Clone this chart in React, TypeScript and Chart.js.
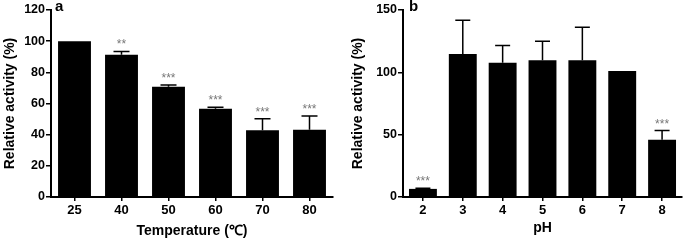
import React, { useEffect, useRef } from "react";
import { Chart, registerables } from "chart.js";
Chart.register(...registerables);

const FONT = '"Liberation Sans", Arial, Helvetica, sans-serif';

// Panel a: temperature
const tempCategories = ["25", "40", "50", "60", "70", "80"];
const tempActivity = [100, 91.3, 70.8, 56.6, 42.8, 43.2];
const tempError = [0, 2.1, 1.1, 1.0, 7.4, 8.7];
const tempSig = ["", "**", "***", "***", "***", "***"];
const tempYMax = 120;
const tempYStep = 20;

// Panel b: pH
const phCategories = ["2", "3", "4", "5", "6", "7", "8"];
const phActivity = [6.5, 114.8, 107.6, 109.7, 109.7, 101, 45.9];
const phError = [0.5, 27, 14, 15.2, 26.5, 0, 7.4];
const phSig = ["***", "", "", "", "", "", "***"];
const phYMax = 150;
const phYStep = 50;

const errBarPlugin = {
  id: "errbars",
  afterDatasetsDraw(chart: any, _args: any, opts: any) {
    const { ctx } = chart;
    const meta = chart.getDatasetMeta(0);
    const ys = chart.scales.y;
    ctx.save();
    meta.data.forEach((bar: any, i: number) => {
      const v = opts.values[i];
      const e = opts.errors[i];
      const x = bar.x;
      const yTop = ys.getPixelForValue(v);
      const yErr = ys.getPixelForValue(v + e);
      if (e > 0) {
        ctx.strokeStyle = "#000";
        ctx.lineWidth = 1.5;
        ctx.beginPath();
        ctx.moveTo(x, yTop);
        ctx.lineTo(x, yErr);
        ctx.moveTo(x - opts.capHalf, yErr);
        ctx.lineTo(x + opts.capHalf, yErr);
        ctx.stroke();
      }
      const s = opts.sig[i];
      if (s) {
        ctx.fillStyle = "#777";
        ctx.font = `12px ${FONT}`;
        ctx.textAlign = "center";
        ctx.textBaseline = "alphabetic";
        ctx.fillText(s, x, yErr - 3);
      }
    });
    // panel letter
    ctx.fillStyle = "#000";
    ctx.font = `bold 15px ${FONT}`;
    ctx.textAlign = "left";
    ctx.textBaseline = "alphabetic";
    ctx.fillText(opts.letter, opts.letterX, 10.5);
    ctx.restore();
  },
};

type PanelProps = {
  left: number;
  width: number;
  labels: string[];
  values: number[];
  errors: number[];
  sig: string[];
  yMax: number;
  yStep: number;
  xTitle: string;
  letter: string;
  letterX: number;
  yWidth: number;
  padRight: number;
  yTitlePad: number;
  xTitlePad: number;
  capHalf: number;
};

function Panel(p: PanelProps) {
  const ref = useRef<HTMLCanvasElement>(null);
  useEffect(() => {
    if (!ref.current) return;
    const xTickFont = { family: FONT, size: 13, weight: "bold" as const };
    const yTickFont = { family: FONT, size: 12.5, weight: "bold" as const };
    const titleFont = { family: FONT, size: 14, weight: "bold" as const };
    const chart = new Chart(ref.current, {
      type: "bar",
      data: {
        labels: p.labels,
        datasets: [
          {
            data: p.values,
            backgroundColor: "#000",
            borderColor: "#000",
            borderWidth: 0,
            barPercentage: 0.7,
            categoryPercentage: 1,
          },
        ],
      },
      options: {
        responsive: false,
        animation: false,
        devicePixelRatio: 1,
        layout: { padding: { top: 10, right: p.padRight, left: 0, bottom: 0 } },
        plugins: {
          legend: { display: false },
          tooltip: { enabled: false },
          errbars: {
            values: p.values,
            errors: p.errors,
            sig: p.sig,
            capHalf: p.capHalf,
            letter: p.letter,
            letterX: p.letterX,
          },
        } as any,
        scales: {
          x: {
            grid: {
              display: true,
              drawOnChartArea: false,
              drawTicks: true,
              tickLength: 4,
              color: "#000",
              lineWidth: 1.5,
              offset: false,
            },
            border: { display: true, color: "#000", width: 2 },
            ticks: {
              color: "#000",
              font: xTickFont,
              padding: 2,
              maxRotation: 0,
              autoSkip: false,
            },
            title: {
              display: true,
              text: p.xTitle,
              color: "#000",
              font: titleFont,
              padding: { top: 0, bottom: p.xTitlePad },
            },
            afterFit: (s: any) => {
              s.height = 44;
            },
          },
          y: {
            min: 0,
            max: p.yMax,
            ticks: { stepSize: p.yStep, color: "#000", font: yTickFont, padding: 1 },
            grid: {
              display: true,
              drawOnChartArea: false,
              drawTicks: true,
              tickLength: 5,
              color: "#000",
              lineWidth: 1.5,
            },
            border: { display: true, color: "#000", width: 2 },
            title: {
              display: true,
              text: "Relative activity (%)",
              color: "#000",
              font: titleFont,
              padding: { top: p.yTitlePad, bottom: 0 },
            },
            afterFit: (s: any) => {
              s.width = p.yWidth;
            },
          },
        },
      },
      plugins: [errBarPlugin],
    });
    return () => chart.destroy();
  }, []);
  return (
    <canvas
      ref={ref}
      width={p.width}
      height={241}
      style={{ position: "absolute", left: p.left, top: 0, width: p.width, height: 241 }}
    />
  );
}

export default function App() {
  return (
    <div
      style={{
        position: "fixed",
        left: 0,
        top: 0,
        width: 685,
        height: 241,
        background: "#fff",
        overflow: "hidden",
      }}
    >
      <Panel
        left={0}
        width={340}
        labels={tempCategories}
        values={tempActivity}
        errors={tempError}
        sig={tempSig}
        yMax={tempYMax}
        yStep={tempYStep}
        xTitle="Temperature (℃)"
        letter="a"
        letterX={55}
        yWidth={51}
        padRight={7}
        yTitlePad={2}
        xTitlePad={1}
        capHalf={8}
      />
      <Panel
        left={340}
        width={345}
        labels={phCategories}
        values={phActivity}
        errors={phError}
        sig={phSig}
        yMax={phYMax}
        yStep={phYStep}
        xTitle="pH"
        letter="b"
        letterX={69}
        yWidth={63}
        padRight={3}
        yTitlePad={10}
        xTitlePad={4}
        capHalf={7.5}
      />
    </div>
  );
}
